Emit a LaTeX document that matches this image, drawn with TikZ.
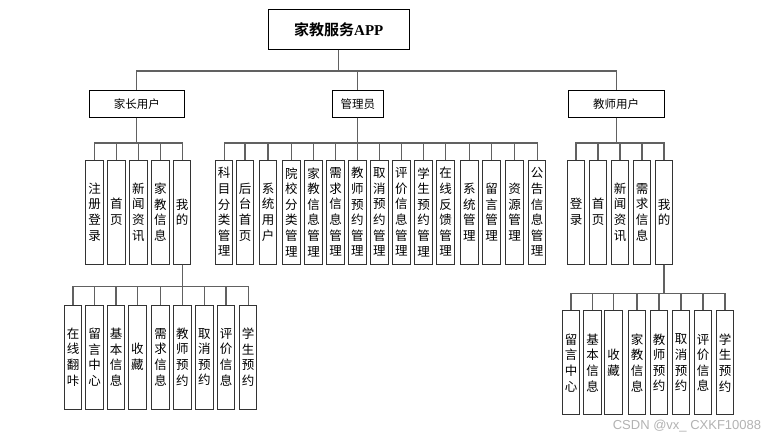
\documentclass[tikz,border=0pt]{standalone}
\usepackage{fontspec}
\setmainfont{Noto Sans CJK SC}
\newfontfamily\titlecjk{Noto Sans CJK SC Bold}
\newfontfamily\titlelat{Liberation Serif}
\newfontfamily\wmfont{Liberation Sans}
\tikzset{
  conn/.style={draw=black!62, line width=1.2pt},
  hbox/.style={draw=black, line width=1pt, fill=white, inner sep=0pt, minimum height=27.3pt, font=\fontsize{11.5}{13}\selectfont},
  vbox/.style={draw=black!80, line width=1pt, fill=white, minimum width=17.5pt, minimum height=104pt, inner sep=0pt, align=center, font=\fontsize{12.5}{15.6}\selectfont},
}
\begin{document}
\begin{tikzpicture}[x=1pt,y=-1pt]
\useasboundingbox (0,0) rectangle (770,441);
% root
\node[draw=black, line width=1pt, minimum width=141pt, minimum height=40pt, inner sep=0pt] (root) at (338.8,29.3)
  {\fontsize{15}{17}\selectfont\titlecjk 家教服务\titlelat\bfseries APP};
% level 1
\node[hbox, minimum width=95pt] (par) at (136.8,103.7) {家长用户};
\node[hbox, minimum width=51pt] (adm) at (357.8,103.7) {管理员};
\node[hbox, minimum width=95.7pt] (tea) at (616.2,103.7) {教师用户};
\coordinate (bar0) at (0,71);
\foreach \c in {par,adm,tea}{
  \draw[conn] (root.south) -- (root.south |- bar0) -| (\c.north);
}
% parent children
\coordinate (bar1) at (0,143);
\node[vbox] (p1) at (94.7,212) {注\\册\\登\\录};
\node[vbox] (p2) at (116.3,212) {首\\页};
\node[vbox] (p3) at (138.3,212) {新\\闻\\资\\讯};
\node[vbox] (p4) at (160.3,212) {家\\教\\信\\息};
\node[vbox] (p5) at (182.2,212) {我\\的};
\foreach \c in {p1,p2,p3,p4,p5}{
  \draw[conn] (par.south) -- (par.south |- bar1) -| (\c.north);
}
% admin children
\node[vbox] (a1) at (224.2,212) {科\\目\\分\\类\\管\\理};
\node[vbox] (a2) at (245,212) {后\\台\\首\\页};
\node[vbox] (a3) at (268,212) {系\\统\\用\\户};
\node[vbox] (a4) at (291.3,212) {院\\校\\分\\类\\管\\理};
\node[vbox] (a5) at (313.5,212) {家\\教\\信\\息\\管\\理};
\node[vbox] (a6) at (335.5,212) {需\\求\\信\\息\\管\\理};
\node[vbox] (a7) at (357.3,212) {教\\师\\预\\约\\管\\理};
\node[vbox] (a8) at (379.3,212) {取\\消\\预\\约\\管\\理};
\node[vbox] (a9) at (401.3,212) {评\\价\\信\\息\\管\\理};
\node[vbox] (a10) at (423.5,212) {学\\生\\预\\约\\管\\理};
\node[vbox] (a11) at (445.7,212) {在\\线\\反\\馈\\管\\理};
\node[vbox] (a12) at (469.3,212) {系\\统\\管\\理};
\node[vbox] (a13) at (491.7,212) {留\\言\\管\\理};
\node[vbox] (a14) at (514.7,212) {资\\源\\管\\理};
\node[vbox] (a15) at (537.2,212) {公\\告\\信\\息\\管\\理};
\foreach \c in {a1,a2,a3,a4,a5,a6,a7,a8,a9,a10,a11,a12,a13,a14,a15}{
  \draw[conn] (adm.south) -- (adm.south |- bar1) -| (\c.north);
}
% teacher children
\node[vbox] (t1) at (576,212) {登\\录};
\node[vbox] (t2) at (598,212) {首\\页};
\node[vbox] (t3) at (620,212) {新\\闻\\资\\讯};
\node[vbox] (t4) at (642,212) {需\\求\\信\\息};
\node[vbox] (t5) at (664,212) {我\\的};
\foreach \c in {t1,t2,t3,t4,t5}{
  \draw[conn] (tea.south) -- (tea.south |- bar1) -| (\c.north);
}
% parent "mine" children
\coordinate (bar2) at (0,286.7);
\node[vbox] (pp1) at (73,357) {在\\线\\翻\\咔};
\node[vbox] (pp2) at (94.7,357) {留\\言\\中\\心};
\node[vbox] (pp3) at (116,357) {基\\本\\信\\息};
\node[vbox] (pp4) at (137.3,357) {收\\藏};
\node[vbox] (pp5) at (160.5,357) {需\\求\\信\\息};
\node[vbox] (pp6) at (182.3,357) {教\\师\\预\\约};
\node[vbox] (pp7) at (204.3,357) {取\\消\\预\\约};
\node[vbox] (pp8) at (226,357) {评\\价\\信\\息};
\node[vbox] (pp9) at (248.2,357) {学\\生\\预\\约};
\foreach \c in {pp1,pp2,pp3,pp4,pp5,pp6,pp7,pp8,pp9}{
  \draw[conn] (p5.south) -- (p5.south |- bar2) -| (\c.north);
}
% teacher "mine" children
\coordinate (bar3) at (0,293.3);
\node[vbox] (tt1) at (571,362.8) {留\\言\\中\\心};
\node[vbox] (tt2) at (592.7,362.8) {基\\本\\信\\息};
\node[vbox] (tt3) at (613.7,362.8) {收\\藏};
\node[vbox] (tt4) at (637,362.8) {家\\教\\信\\息};
\node[vbox] (tt5) at (659,362.8) {教\\师\\预\\约};
\node[vbox] (tt6) at (681,362.8) {取\\消\\预\\约};
\node[vbox] (tt7) at (703,362.8) {评\\价\\信\\息};
\node[vbox] (tt8) at (725,362.8) {学\\生\\预\\约};
\foreach \c in {tt1,tt2,tt3,tt4,tt5,tt6,tt7,tt8}{
  \draw[conn] (t5.south) -- (t5.south |- bar3) -| (\c.north);
}
% watermark
\node[text=black!30, inner sep=0pt, font=\wmfont\fontsize{13}{15}\selectfont] (wm) at (687,426) {CSDN @vx\_ CXKF10088};
\end{tikzpicture}
\end{document}
